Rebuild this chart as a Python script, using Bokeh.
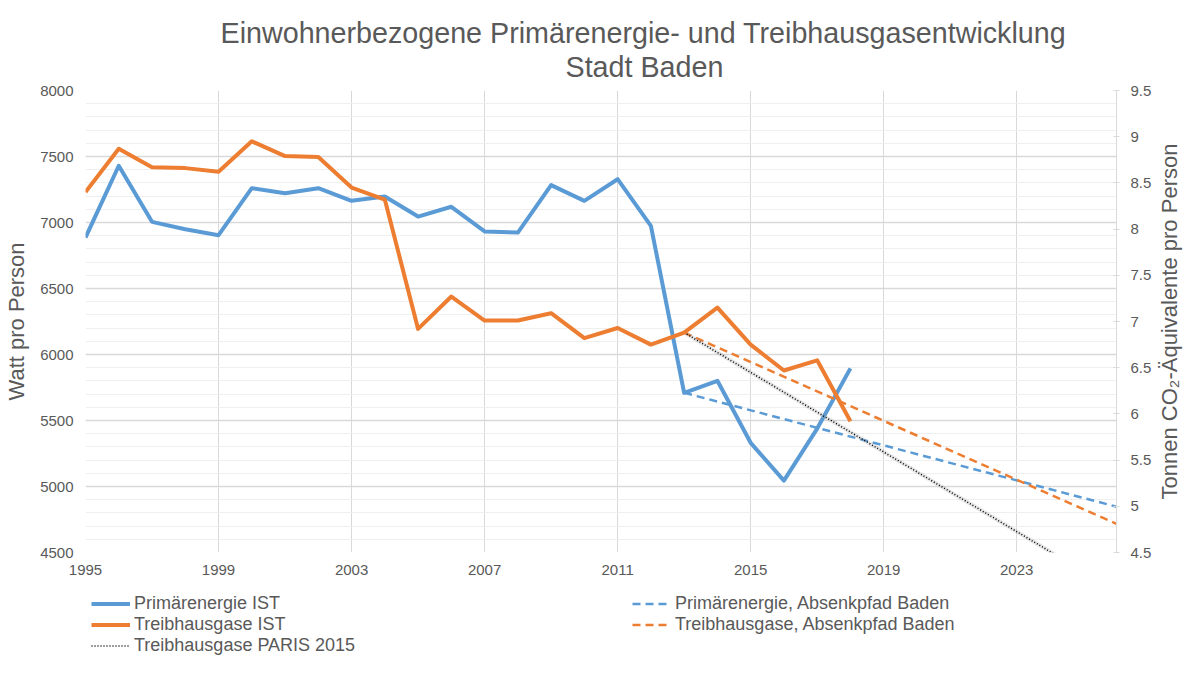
import math
from bokeh.plotting import figure
from bokeh.layouts import column, row
from bokeh.models import (Range1d, LinearAxis, FixedTicker, Legend, LegendItem,
                          Title, Label, CustomJSTickFormatter)
from bokeh.embed import file_html
from bokeh.resources import INLINE

# ---- data ----
years_ist = [1995, 1996, 1997, 1998, 1999, 2000, 2001, 2002, 2003, 2004, 2005, 2006,
             2007, 2008, 2009, 2010, 2011, 2012, 2013, 2014, 2015, 2016, 2017, 2018]
primaerenergie_ist = [6886, 7430, 7005, 6949, 6904, 7260, 7222, 7260, 7164, 7197, 7045, 7119,
                      6932, 6924, 7283, 7164, 7328, 6975, 5710, 5801, 5331, 5045, 5439, 5895]
treibhausgase_ist = [8.40, 8.87, 8.67, 8.66, 8.62, 8.95, 8.79, 8.78, 8.45, 8.32, 6.92, 7.27,
                     7.01, 7.01, 7.09, 6.82, 6.93, 6.75, 6.88, 7.15, 6.75, 6.47, 6.58, 5.92]
years_pfad = [2013, 2026]
primaerenergie_pfad = [5710, 4847]
treibhausgase_pfad = [6.88, 4.81]
years_paris = [2013, 2026]
treibhausgase_paris = [6.88, 4.08]

x_ticks = [1995, 1999, 2003, 2007, 2011, 2015, 2019, 2023]
left_ticks = [4500, 5000, 5500, 6000, 6500, 7000, 7500, 8000]
right_ticks = [4.5, 5, 5.5, 6, 6.5, 7, 7.5, 8, 8.5, 9, 9.5]

title_line1 = "Einwohnerbezogene Primärenergie- und Treibhausgasentwicklung"
title_line2 = "Stadt Baden"
left_label = "Watt pro Person"
right_label = "Tonnen CO₂-Äquivalente pro Person"
legend_left = ["Primärenergie IST", "Treibhausgase IST", "Treibhausgase PARIS 2015"]
legend_right = ["Primärenergie, Absenkpfad Baden", "Treibhausgase, Absenkpfad Baden"]

BLUE = "#5B9BD5"
ORANGE = "#ED7D31"
TEXT = "#595959"
GRID = "#D9D9D9"
MINOR = "#EFEFEF"
FONT = "Liberation Sans"

SOLID = dict(line_width=4, line_join="round")
DASHED = dict(line_width=2.5, line_dash="8 5")
DOTTED = dict(line_width=1.5, line_dash="1 2")

P_W, R_W, P_H, Q_H = 1154, 30, 582, 77

p = figure(width=P_W, height=P_H, output_backend="svg", toolbar_location=None,
           x_range=Range1d(1995, 2026), y_range=Range1d(4500, 8000),
           min_border_left=85, min_border_right=37, min_border_top=90,
           min_border_bottom=30)
p.outline_line_color = None
p.background_fill_color = "white"
p.title.visible = False

p.extra_y_ranges = {"co2": Range1d(4.5, 9.5)}

# Titles
t2 = Title(text=title_line2, align="left", text_font_size="28.7px", text_color=TEXT,
           text_font=FONT, text_font_style="normal", offset=480, standoff=15)
t1 = Title(text=title_line1, align="left", text_font_size="28.7px", text_color=TEXT,
           text_font=FONT, text_font_style="normal", offset=135, standoff=-15)
p.add_layout(t2, "above")
p.add_layout(t1, "above")

# Axes
xa = p.xaxis[0]
xa.ticker = FixedTicker(ticks=x_ticks)
xa.axis_line_color = None
xa.major_tick_line_color = None
xa.major_tick_out = 0
xa.major_tick_in = 0
xa.minor_tick_line_color = None
xa.minor_tick_out = 0
xa.major_label_text_font = FONT
xa.major_label_text_font_size = "15px"
xa.major_label_text_color = TEXT
xa.major_label_standoff = 12

ya = p.yaxis[0]
ya.ticker = FixedTicker(ticks=left_ticks,
                        minor_ticks=[v for v in range(4500, 8001, 100)])
ya.axis_line_color = None
ya.major_tick_line_color = None
ya.major_tick_out = 0
ya.major_tick_in = 0
ya.minor_tick_line_color = None
ya.minor_tick_out = 0
ya.major_label_text_font = FONT
ya.major_label_text_font_size = "15px"
ya.major_label_text_color = TEXT
ya.major_label_standoff = 12
ya.axis_label = left_label
ya.axis_label_text_font = FONT
ya.axis_label_text_font_size = "22px"
ya.axis_label_text_font_style = "normal"
ya.axis_label_text_color = TEXT
ya.axis_label_standoff = 8

ra = LinearAxis(y_range_name="co2", ticker=FixedTicker(ticks=right_ticks),
                formatter=CustomJSTickFormatter(code="return tick.toString()"))
ra.axis_line_color = GRID
ra.major_tick_line_color = GRID
ra.major_tick_in = 3
ra.major_tick_out = 3
ra.minor_tick_line_color = None
ra.minor_tick_out = 0
ra.major_label_text_font = FONT
ra.major_label_text_font_size = "15px"
ra.major_label_text_color = TEXT
ra.major_label_standoff = 11
p.add_layout(ra, "right")

# Grid
p.xgrid.grid_line_color = GRID
p.xgrid.grid_line_width = 1
p.ygrid.grid_line_color = GRID
p.ygrid.grid_line_width = 1.3
p.ygrid.minor_grid_line_color = MINOR
p.ygrid.minor_grid_line_width = 1


def draw_series(fig):
    r = {}
    r["pe"] = fig.line(years_ist, primaerenergie_ist, line_color=BLUE, **SOLID)
    r["pe_pfad"] = fig.line(years_pfad, primaerenergie_pfad, line_color=BLUE, **DASHED)
    r["th_pfad"] = fig.line(years_pfad, treibhausgase_pfad, line_color=ORANGE,
                            y_range_name="co2", **DASHED)
    fig.line(years_paris, treibhausgase_paris, line_color="#9A9A9A", line_width=4,
             line_alpha=0.25, y_range_name="co2")
    r["paris"] = fig.line(years_paris, treibhausgase_paris, line_color="black",
                          y_range_name="co2", **DOTTED)
    r["th"] = fig.line(years_ist, treibhausgase_ist, line_color=ORANGE,
                       y_range_name="co2", **SOLID)
    return r


draw_series(p)


def blank(fig):
    fig.axis.visible = False
    fig.grid.visible = False
    fig.outline_line_color = None
    fig.title.visible = False
    return fig


# Strip on the right carrying the right-axis title, read bottom-to-top
r_fig = blank(figure(width=R_W, height=P_H, output_backend="svg", toolbar_location=None,
                     x_range=Range1d(0, 1), y_range=Range1d(0, 1),
                     min_border_left=0, min_border_right=0, min_border_top=90,
                     min_border_bottom=30))
r_fig.add_layout(Label(x=0.5, y=0.5, text=right_label, angle=math.pi / 2,
                       text_align="center", text_baseline="middle",
                       text_font=FONT, text_font_size="22px", text_color=TEXT))

# Legend strip below the chart: same series, drawn outside this strip's ranges,
# so only their legend entries show.
q = blank(figure(width=P_W + R_W, height=Q_H, output_backend="svg", toolbar_location=None,
                 x_range=Range1d(0, 1), y_range=Range1d(0, 1),
                 min_border_left=0, min_border_right=0, min_border_top=0,
                 min_border_bottom=0))
q.extra_y_ranges = {"co2": Range1d(0, 1)}
rq = draw_series(q)


def make_legend(items, loc):
    lg = Legend(items=items, location=loc, orientation="vertical")
    lg.border_line_color = None
    lg.background_fill_alpha = 0
    lg.padding = 0
    lg.margin = 0
    lg.spacing = 0
    lg.glyph_width = 39
    lg.glyph_height = 21
    lg.label_height = 21
    lg.label_standoff = 4
    lg.label_text_font = FONT
    lg.label_text_font_size = "18px"
    lg.label_text_color = TEXT
    return lg


leg1 = make_legend([LegendItem(label=legend_left[0], renderers=[rq["pe"]]),
                    LegendItem(label=legend_left[1], renderers=[rq["th"]]),
                    LegendItem(label=legend_left[2], renderers=[rq["paris"]])],
                   (91, 3))
leg2 = make_legend([LegendItem(label=legend_right[0], renderers=[rq["pe_pfad"]]),
                    LegendItem(label=legend_right[1], renderers=[rq["th_pfad"]])],
                   (632, 24))
q.add_layout(leg1, "center")
q.add_layout(leg2, "center")

layout = column(row(p, r_fig, spacing=0), q, spacing=0)
open("out.html", "w").write(file_html(layout, INLINE))
